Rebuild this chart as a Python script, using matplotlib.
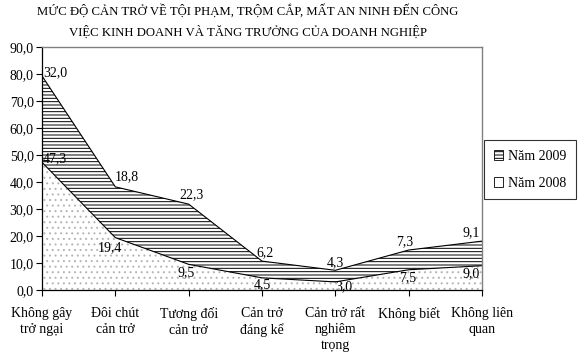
import matplotlib
matplotlib.use("Agg")
import matplotlib.pyplot as plt
import numpy as np
from matplotlib.patches import Patch

categories = ["Không gây\ntrở ngại", "Đôi chút\ncản trở", "Tương đối\ncản trở",
              "Cản trở\nđáng kể", "Cản trở rất\nnghiêm\ntrọng", "Không biết",
              "Không liên\nquan"]
y2008 = [47.3, 19.4, 9.5, 4.5, 3.0, 7.5, 9.0]
y2009 = [32.0, 18.8, 22.3, 6.2, 4.3, 7.3, 9.1]
yticks = [0, 10, 20, 30, 40, 50, 60, 70, 80, 90]
title = "MỨC ĐỘ CẢN TRỞ VỀ TỘI PHẠM, TRỘM CẮP, MẤT AN NINH ĐẾN CÔNG\nVIỆC KINH DOANH VÀ TĂNG TRƯỞNG CỦA DOANH NGHIỆP"

plt.rcParams['font.family'] = ['Liberation Serif', 'DejaVu Serif']
plt.rcParams['hatch.linewidth'] = 0.7

fig = plt.figure(figsize=(5.8, 3.53), dpi=100)
ax = fig.add_axes([42/580, 1-290/353, 440/580, 243/353])

x = np.arange(len(categories))
a = np.array(y2008)
b = a + np.array(y2009)

plt.rcParams['hatch.color'] = '#b4b4b4'
f1 = ax.fill_between(x, 0, a, facecolor='white', edgecolor='#b4b4b4', hatch='...', linewidth=0)
plt.rcParams['hatch.color'] = 'black'
f2 = ax.fill_between(x, a, b, facecolor='white', edgecolor='black', hatch='-----', linewidth=0)
ax.plot(x, a, color='black', lw=0.8)
ax.plot(x, b, color='black', lw=0.8)

ax.set_xlim(0, len(categories)-1)
ax.set_ylim(0, 90)
ax.set_yticks(yticks)
ax.set_yticklabels([f"{v:.1f}".replace('.', ',') for v in yticks], fontsize=10)
ax.set_xticks(x)
ax.set_xticklabels(categories, fontsize=10, linespacing=1.3)
ax.tick_params(axis='x', length=4, pad=8, width=0.8)
ax.tick_params(axis='y', length=4, pad=2, width=0.8)
for s in ['left', 'bottom']:
    ax.spines[s].set_color('black')
    ax.spines[s].set_linewidth(0.9)
for s in ['top', 'right']:
    ax.spines[s].set_color('#808080')
    ax.spines[s].set_linewidth(1.0)

def fmt(v):
    return f"{v:.1f}".replace('.', ',')

# label offsets in pixels (dx, dy) relative to the data point
top_off = [(13, 3), (11, 10), (3, 9), (3, 8), (0, 8), (-4, 8), (-11, 8)]
bot_off = [(13, 4), (-5, -10), (-3, -8), (0, -7), (8, -5), (-1, -8), (-11, -8)]
for i in range(len(x)):
    ax.annotate(fmt(y2009[i]), (x[i], b[i]), xytext=top_off[i], textcoords='offset pixels',
                ha='center', va='center', fontsize=10, annotation_clip=False)
    ax.annotate(fmt(y2008[i]), (x[i], a[i]), xytext=bot_off[i], textcoords='offset pixels',
                ha='center', va='center', fontsize=10, annotation_clip=False)

fig.text(248/580, 1-21/353, title, ha='center', va='center', fontsize=9.2, linespacing=1.75)

handles = [Patch(facecolor='white', edgecolor='black', hatch='-----', lw=0.6),
           Patch(facecolor='white', edgecolor='black', lw=0.6)]
leg = fig.legend(handles, ["Năm 2009", "Năm 2008"], loc='upper left',
                 bbox_to_anchor=(484/580, 1-140/353), fontsize=10, frameon=True,
                 fancybox=False, edgecolor='black', handlelength=0.7, handleheight=0.7,
                 handletextpad=0.3, labelspacing=1.0, borderpad=0.7, borderaxespad=0)
leg.get_frame().set_linewidth(0.8)

fig.savefig("out.png", dpi=100)
